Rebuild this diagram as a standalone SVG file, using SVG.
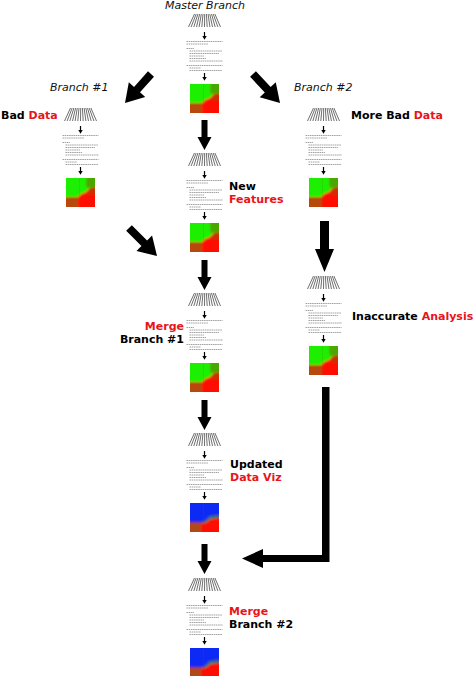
<svg xmlns="http://www.w3.org/2000/svg" xmlns:xlink="http://www.w3.org/1999/xlink" width="474" height="676" viewBox="0 0 474 676">
<style>
.lbl{font-family:"DejaVu Sans","Liberation Sans",sans-serif;font-size:11px;font-weight:bold;fill:#000}
.red{fill:#e8141c}
.ital{font-family:"DejaVu Sans","Liberation Sans",sans-serif;font-size:11px;font-style:italic;fill:#111}
.fan{stroke:#555;stroke-width:0.85;fill:none}
.doc{stroke:#999;stroke-width:0.9;fill:none;stroke-dasharray:1.6 0.6}
.big{fill:#000}
</style>
<defs>
<clipPath id="sq"><rect x="0" y="0" width="29" height="29"/></clipPath>
<filter id="bl" x="-0.3" y="-0.3" width="1.6" height="1.6"><feGaussianBlur stdDeviation="1.1"/></filter>
<g id="fan">
<path class="fan" d="M4.5,0L-1.5,13M6.2,0L1.1,13M7.9,0L3.8,13M9.6,0L6.5,13M11.3,0L9.1,13M13,0L11.8,13M14.7,0L14.5,13M16.4,0L17.2,13M18.1,0L19.9,13M19.8,0L22.5,13M21.5,0L25.2,13M23.2,0L27.9,13M24.9,0L30.5,13"/>
</g>
<g id="sarrow">
<path d="M14.5,0V4.5" stroke="#000" stroke-width="1.2"/>
<path d="M12.3,4L16.7,4L14.5,7.8Z" fill="#000"/>
</g>
<g id="doc">
<path class="doc" d="M-3.5,0.5H32.5M-3.5,3H18M-3.5,7.5H4M-0.5,10H32.5M-0.5,12.5H29M-0.5,15H14M-0.5,17.5H16M-0.5,20H33M-3.5,24.5H32.5M-0.5,27H11M-0.5,29.5H32"/>
</g>
<g id="heatG">
<g clip-path="url(#sq)">
<g filter="url(#bl)">
<rect x="-5" y="-5" width="39" height="39" fill="#ff0a00"/>
<rect x="-5" y="19" width="17" height="15" fill="#b8480a"/>
<path d="M-5,-5H34V9L24,10L20,14L15,16L12,19H-5Z" fill="#1ef000"/>
<path d="M20,-5H34V9L24,10L20,9Z" fill="#4aa800"/>
<path d="M24,10L34,9V16L22,17Z" fill="#c83000"/>
</g>
<path d="M13.5,0V29" stroke="#5a7a10" stroke-width="0.5" opacity="0.4"/>
</g>
</g>
<g id="heatB">
<g clip-path="url(#sq)">
<g filter="url(#bl)">
<rect x="-5" y="-5" width="39" height="39" fill="#ff0800"/>
<rect x="-5" y="20" width="16" height="14" fill="#b04a18"/>
<path d="M-5,-5H34V12L20,13L16,17L12,19.5H-5Z" fill="#0a2cf5"/>
<path d="M20,13L34,12V15L21,16L17,19L12,21L12,19.5L16,17Z" fill="#2a7878"/>
</g>
<path d="M13.5,0V29" stroke="#3050a0" stroke-width="0.5" opacity="0.4"/>
</g>
</g>
</defs>
<rect width="474" height="676" fill="#fff"/>

<g id="labels">
<text class="ital" x="205" y="9" text-anchor="middle">Master Branch</text>
<text class="ital" x="50" y="91">Branch #1</text>
<text class="ital" x="294" y="91">Branch #2</text>
</g>

<g id="master1" transform="translate(190,14)">
<use href="#fan"/><use href="#sarrow" y="18"/><use href="#doc" y="27"/><use href="#sarrow" y="59"/><use href="#heatG" y="70"/>
</g>
<g id="master2" transform="translate(190,153)">
<use href="#fan"/><use href="#sarrow" y="18"/><use href="#doc" y="27"/><use href="#sarrow" y="59"/><use href="#heatG" y="70"/>
<text class="lbl" x="39" y="37">New</text>
<text class="lbl red" x="39" y="50">Features</text>
</g>
<g id="master3" transform="translate(190,293)">
<use href="#fan"/><use href="#sarrow" y="18"/><use href="#doc" y="27"/><use href="#sarrow" y="59"/><use href="#heatG" y="70"/>
<text class="lbl red" x="-6" y="37" text-anchor="end">Merge</text>
<text class="lbl" x="-6" y="50" text-anchor="end">Branch #1</text>
</g>
<g id="master4" transform="translate(190,433)">
<use href="#fan"/><use href="#sarrow" y="18"/><use href="#doc" y="27"/><use href="#sarrow" y="59"/><use href="#heatB" y="70"/>
<text class="lbl" x="40" y="35">Updated</text>
<text class="lbl red" x="40" y="48">Data Viz</text>
</g>
<g id="master5" transform="translate(190,578)">
<use href="#fan"/><use href="#sarrow" y="18"/><use href="#doc" y="27"/><use href="#sarrow" y="59"/><use href="#heatB" y="70"/>
<text class="lbl red" x="39" y="37">Merge</text>
<text class="lbl" x="39" y="50">Branch #2</text>
</g>
<g id="branch1" transform="translate(66,108)">
<use href="#fan"/><use href="#sarrow" y="18"/><use href="#doc" y="27"/><use href="#sarrow" y="59"/><use href="#heatG" y="70"/>
<text class="lbl" x="-65" y="11">Bad <tspan class="red">Data</tspan></text>
</g>
<g id="branch2" transform="translate(309,108)">
<use href="#fan"/><use href="#sarrow" y="18"/><use href="#doc" y="27"/><use href="#sarrow" y="59"/><use href="#heatG" y="70"/>
<text class="lbl" x="42" y="11">More Bad <tspan class="red">Data</tspan></text>
</g>
<g id="branch2b" transform="translate(309,276)">
<use href="#fan"/><use href="#sarrow" y="18"/><use href="#doc" y="27"/><use href="#sarrow" y="59"/><use href="#heatG" y="70"/>
<text class="lbl" x="43" y="44">Inaccurate <tspan class="red">Analysis</tspan></text>
</g>

<g id="connectors">
<path class="big" d="M153.98,76.67L139.99,92.27L145.21,96.94L125,103L128.83,82.26L134.04,86.93L148.02,71.33Z"/>
<path class="big" d="M255.93,71.27L270.66,87.1L275.78,82.33L280,103L259.68,97.33L264.8,92.56L250.07,76.73Z"/>
<path class="big" d="M131.83,225.17L147.1,240.44L152.05,235.49L157,256L136.49,251.05L141.44,246.1L126.17,230.83Z"/>
<path class="big" d="M201.5,120H207.5V137H211.5L204.5,150L197.5,137H201.5Z"/>
<path class="big" d="M201.5,260H207.5V277H211.5L204.5,290L197.5,277H201.5Z"/>
<path class="big" d="M201.5,400H207.5V417H211.5L204.5,430L197.5,417H201.5Z"/>
<path class="big" d="M201.5,544H207.5V561H211.5L204.5,574L197.5,561H201.5Z"/>
<path class="big" d="M320,221H329V249H334L324.5,272L315,249H320Z"/>
<path class="big" d="M322,387H329.5V562H263V568L242,558.5L263,549V555H322Z"/>
</g>
</svg>
